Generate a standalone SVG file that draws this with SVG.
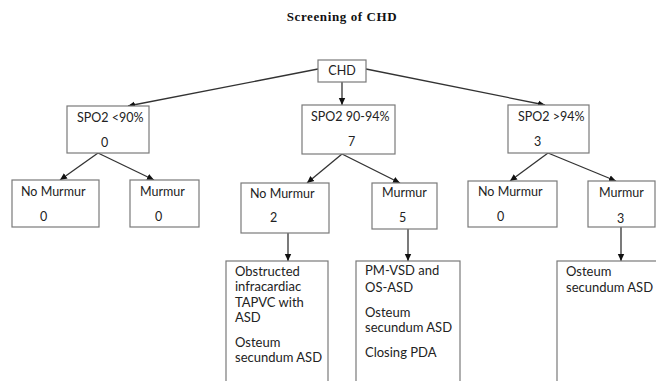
<svg xmlns="http://www.w3.org/2000/svg" width="656" height="381" viewBox="0 0 656 381">
<defs>
<marker id="ah" markerWidth="8" markerHeight="8" refX="7" refY="4" orient="auto" markerUnits="userSpaceOnUse">
<path d="M0,0.8 L7,4 L0,7.2 Z" fill="#111"/>
</marker>
<style>
.box{fill:#fff;stroke:#7a7a7a;stroke-width:1.2}
.t{font-family:Lato,"Open Sans",sans-serif;font-size:12.5px;fill:#222}
.lt{font-family:Lato,"Open Sans",sans-serif;font-size:13px;fill:#222}
.ttl{font-family:"Liberation Serif",serif;font-weight:bold;font-size:13px;letter-spacing:0.6px;fill:#111}
.c{fill:none;stroke:#333;stroke-width:1.3;marker-end:url(#ah)}
</style>
</defs>
<rect width="656" height="381" fill="#fff"/>
<text class="ttl" x="342" y="21" text-anchor="middle">Screening of CHD</text>
<g id="connectors">
<line class="c" x1="318" y1="69" x2="128" y2="106"/>
<line class="c" x1="342" y1="82" x2="342" y2="105"/>
<line class="c" x1="366" y1="69" x2="545" y2="105"/>
<line class="c" x1="98" y1="153" x2="60" y2="180"/>
<line class="c" x1="98" y1="153" x2="154" y2="180"/>
<line class="c" x1="342" y1="154" x2="307" y2="183"/>
<line class="c" x1="342" y1="154" x2="400" y2="183"/>
<line class="c" x1="548" y1="153" x2="510" y2="181"/>
<line class="c" x1="548" y1="153" x2="616" y2="181"/>
<line class="c" x1="288" y1="233" x2="288" y2="261"/>
<line class="c" x1="408" y1="229" x2="408" y2="261"/>
<line class="c" x1="621" y1="227" x2="621" y2="261"/>
</g>
<g id="chd"><rect class="box" x="318" y="60" width="48" height="22"/><text class="t" x="342" y="75" text-anchor="middle">CHD</text></g>
<g id="spo2-low"><rect class="box" x="67" y="106" width="82" height="47"/><text class="t" x="77" y="122">SPO2 &lt;90%</text><text class="t" x="101" y="147">0</text></g>
<g id="spo2-mid"><rect class="box" x="302" y="105" width="93" height="49"/><text class="t" x="311" y="121">SPO2 90-94%</text><text class="t" x="348" y="146">7</text></g>
<g id="spo2-high"><rect class="box" x="508" y="105" width="81" height="48"/><text class="t" x="518" y="121">SPO2 &gt;94%</text><text class="t" x="534" y="146">3</text></g>
<g id="nomurmur-low"><rect class="box" x="12" y="180" width="87" height="47"/><text class="t" x="21" y="196">No Murmur</text><text class="t" x="40" y="221">0</text></g>
<g id="murmur-low"><rect class="box" x="130" y="180" width="69" height="47"/><text class="t" x="140" y="196">Murmur</text><text class="t" x="155" y="221">0</text></g>
<g id="nomurmur-mid"><rect class="box" x="241" y="183" width="88" height="50"/><text class="t" x="250" y="198">No Murmur</text><text class="t" x="270" y="222">2</text></g>
<g id="murmur-mid"><rect class="box" x="372" y="183" width="65" height="46"/><text class="t" x="382" y="197">Murmur</text><text class="t" x="399" y="222">5</text></g>
<g id="nomurmur-high"><rect class="box" x="468" y="181" width="89" height="46"/><text class="t" x="478" y="196">No Murmur</text><text class="t" x="497" y="221">0</text></g>
<g id="murmur-high"><rect class="box" x="588" y="181" width="67" height="46"/><text class="t" x="599" y="197">Murmur</text><text class="t" x="617" y="223">3</text></g>
<g id="leaf-nomurmur-mid"><rect class="box" x="226" y="261" width="102" height="140"/>
<text class="lt" x="235" y="276">Obstructed</text><text class="lt" x="235" y="291">infracardiac</text><text class="lt" x="235" y="307">TAPVC with</text><text class="lt" x="235" y="322">ASD</text><text class="lt" x="235" y="347">Osteum</text><text class="lt" x="235" y="362">secundum ASD</text></g>
<g id="leaf-murmur-mid"><rect class="box" x="356" y="261" width="104" height="140"/>
<text class="lt" x="365" y="275">PM-VSD and</text><text class="lt" x="365" y="292">OS-ASD</text><text class="lt" x="365" y="317">Osteum</text><text class="lt" x="365" y="332">secundum ASD</text><text class="lt" x="365" y="357">Closing PDA</text></g>
<g id="leaf-murmur-high"><rect class="box" x="557" y="261" width="120" height="140"/>
<text class="lt" x="566" y="276">Osteum</text><text class="lt" x="566" y="292">secundum ASD</text></g>
</svg>
